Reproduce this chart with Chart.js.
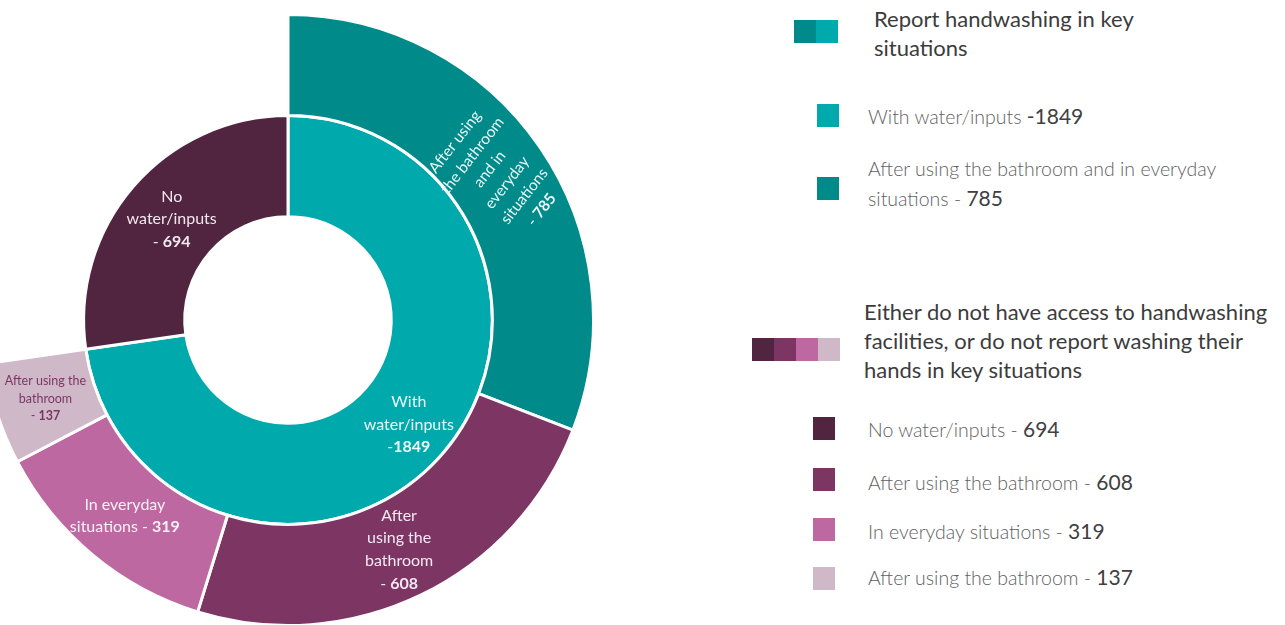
<!DOCTYPE html>
<html>
<head>
<meta charset="utf-8">
<script src="https://cdn.jsdelivr.net/npm/chart.js@4/dist/chart.umd.min.js"></script>
<style>
  body { margin: 0; width: 1285px; height: 625px; overflow: hidden; background: #fff; font-family: Lato, "Open Sans", sans-serif; }
  #wrap { position: absolute; left: -19px; top: 13px; width: 614px; height: 614px; }
  .sw { position: absolute; height: 23px; }
  .sw span { display: inline-block; width: 22px; height: 23px; vertical-align: top; }
  .title { position: absolute; font-size: 22px; line-height: 29px; color: #3c3c3c; font-weight: 400; }
  .item { position: absolute; font-size: 19.5px; line-height: 29px; color: #5f5f5f; font-weight: 300; }
  .item b { font-weight: 400; font-size: 21px; color: #404040; }
</style>
</head>
<body>
<div id="wrap"><canvas id="chart"></canvas></div>
<div id="legend"></div>
<script>
// inner ring
var innerNames = ['With water/inputs', 'No water/inputs'];
var innerValues = [1849, 694];
var innerColors = ['#00a9ac', '#512440'];

// outer ring (the no-water part is left empty)
var outerNames = ['After using the bathroom and in everyday situations', 'After using the bathroom', 'In everyday situations', 'After using the bathroom'];
var outerValues = [785, 608, 319, 137];
var outerColors = ['#008a8a', '#7d3663', '#bd68a0', '#cfb8c8'];

// wrapped labels written on the slices
var innerSliceLines = [['With', 'water/inputs'], ['No', 'water/inputs']];
var outerSliceLines = [['After using', 'the bathroom', 'and in', 'everyday', 'situations'], ['After', 'using the', 'bathroom'], ['In everyday', 'situations'], ['After using the', 'bathroom']];

var groupTitles = ['Report handwashing in key situations', 'Either do not have access to handwashing facilities, or do not report washing their hands in key situations'];

// ---- legend (html) ----
var legend = document.getElementById('legend');
function add(html) { legend.insertAdjacentHTML('beforeend', html); }

add('<div class="sw" style="left:794px;top:20px"><span style="background:' + outerColors[0] + '"></span><span style="background:' + innerColors[0] + '"></span></div>');
add('<div class="title" style="left:874px;top:4px;width:285px">' + groupTitles[0] + '</div>');
add('<div class="sw" style="left:817px;top:104px"><span style="background:' + innerColors[0] + '"></span></div>');
add('<div class="item" style="left:868px;top:101px">' + innerNames[0] + ' <b>-' + innerValues[0] + '</b></div>');
add('<div class="sw" style="left:817px;top:177px"><span style="background:' + outerColors[0] + '"></span></div>');
add('<div class="item" style="left:868px;top:154px;width:380px">' + outerNames[0] + ' - <b>' + outerValues[0] + '</b></div>');

add('<div class="sw" style="left:752px;top:338px"><span style="background:' + innerColors[1] + '"></span>' +
  outerColors.slice(1).map(c => '<span style="background:' + c + '"></span>').join('') + '</div>');
add('<div class="title" style="left:864px;top:297px;width:420px">' + groupTitles[1] + '</div>');

var items2 = [[innerNames[1], innerValues[1], innerColors[1]]];
for (var i = 1; i < outerNames.length; i++) items2.push([outerNames[i], outerValues[i], outerColors[i]]);
var swTops = [417, 468, 518, 567];
var txtTops = [414, 467, 516, 562];
items2.forEach((it, i) => {
  add('<div class="sw" style="left:813px;top:' + swTops[i] + 'px"><span style="background:' + it[2] + '"></span></div>');
  add('<div class="item" style="left:868px;top:' + txtTops[i] + 'px">' + it[0] + ' - <b>' + it[1] + '</b></div>');
});

// ---- slice labels ----
var sliceLabels = {
  0: [
    { lines: outerSliceLines[0], last: '- ', num: outerValues[0], color: '#e8f6f6', size: 15.5, rotate: -52 },
    { lines: outerSliceLines[1], last: '- ', num: outerValues[1], color: '#f3e9f0', size: 16 },
    { lines: outerSliceLines[2], inline: true, last: ' - ', num: outerValues[2], color: '#fbf0f7', size: 16 },
    { lines: outerSliceLines[3], last: '- ', num: outerValues[3], color: '#7d3663', size: 12.5 }
  ],
  1: [
    { lines: innerSliceLines[0], last: '-', num: innerValues[0], color: '#eefafa', size: 16, dr: 6 },
    { lines: innerSliceLines[1], last: '- ', num: innerValues[1], color: '#f1e8ee', size: 16 }
  ]
};

var labelPlugin = {
  id: 'sliceLabels',
  afterDatasetsDraw(chart) {
    var ctx = chart.ctx;
    Object.keys(sliceLabels).forEach(di => {
      var meta = chart.getDatasetMeta(+di);
      sliceLabels[di].forEach((cfg, i) => {
        var arc = meta.data[i];
        var p = arc.getProps(['x', 'y', 'startAngle', 'endAngle', 'innerRadius', 'outerRadius'], true);
        var a = (p.startAngle + p.endAngle) / 2;
        var r = (p.innerRadius + p.outerRadius) / 2 + (cfg.dr || 0);
        var cx = p.x + Math.cos(a) * r;
        var cy = p.y + Math.sin(a) * r;
        var fam = 'Lato, "Open Sans", sans-serif';
        var lh = cfg.size * 1.42;
        var rows = cfg.lines.map(t => [[t, false]]);
        if (cfg.inline) rows[rows.length - 1].push([cfg.last, false], [String(cfg.num), true]);
        else rows.push([[cfg.last, false], [String(cfg.num), true]]);
        ctx.save();
        ctx.translate(cx, cy);
        if (cfg.rotate) ctx.rotate(cfg.rotate * Math.PI / 180);
        ctx.fillStyle = cfg.color;
        ctx.textBaseline = 'middle';
        ctx.textAlign = 'left';
        var y0 = -(rows.length - 1) * lh / 2;
        rows.forEach((row, k) => {
          var w = 0;
          row.forEach(pc => {
            ctx.font = (pc[1] ? '700 ' : '400 ') + cfg.size + 'px ' + fam;
            w += ctx.measureText(pc[0]).width;
          });
          var x = -w / 2;
          row.forEach(pc => {
            ctx.font = (pc[1] ? '700 ' : '400 ') + cfg.size + 'px ' + fam;
            ctx.fillText(pc[0], x, y0 + k * lh);
            x += ctx.measureText(pc[0]).width;
          });
        });
        ctx.restore();
      });
    });
  }
};

var ctx = document.getElementById('chart').getContext('2d');
var chart = new Chart(ctx, {
  type: 'doughnut',
  data: {
    labels: outerNames.concat(['']),
    datasets: [{
      // outer ring, gap for the no-water share
      data: outerValues.concat([innerValues[1]]),
      backgroundColor: outerColors.concat(['rgba(0,0,0,0)']),
      borderColor: '#ffffff',
      borderWidth: [3, 3, 3, 3, 0]
    }, {
      data: innerValues,
      backgroundColor: innerColors,
      borderColor: '#ffffff',
      borderWidth: 3
    }]
  },
  options: {
    responsive: true,
    maintainAspectRatio: false,
    animation: false,
    cutout: '33.8%',
    hoverOffset: 0,
    layout: { padding: 0 },
    plugins: { legend: { display: false }, tooltip: { enabled: false } }
  },
  plugins: [labelPlugin]
});
</script>
</body>
</html>
